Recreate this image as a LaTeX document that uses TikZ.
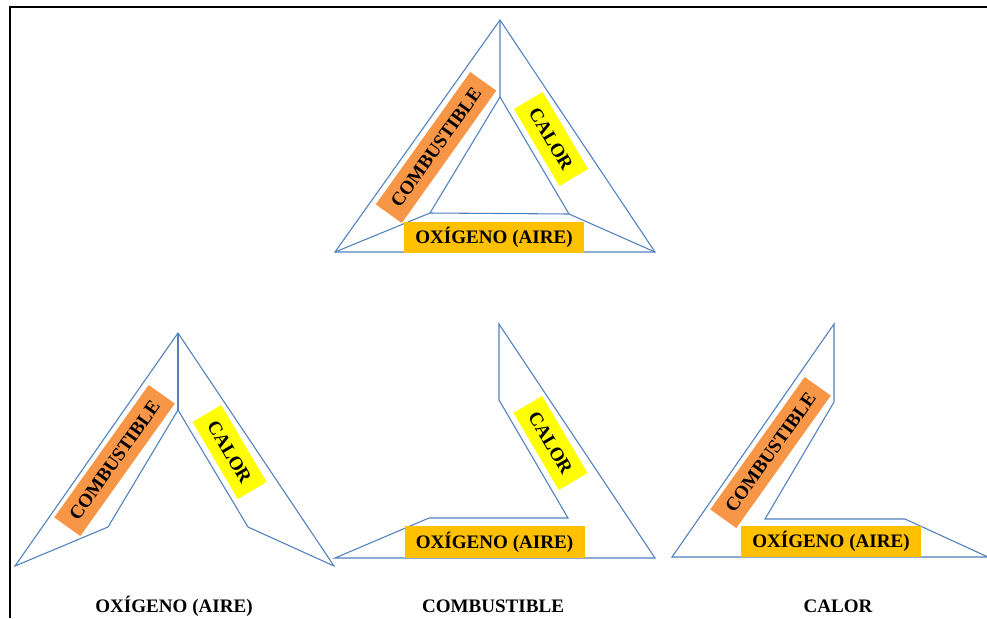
\documentclass[tikz,border=0pt]{standalone}
\usepackage{fontspec}
\setmainfont{Liberation Serif}
\definecolor{edgeblue}{HTML}{4F81BD}
\definecolor{fuelorange}{HTML}{F79646}
\definecolor{airgold}{HTML}{FFC000}
\definecolor{heatyellow}{HTML}{FFFF00}
\begin{document}
\begin{tikzpicture}[x=0.75pt,y=-0.75pt,
  edge/.style={draw=edgeblue,line width=0.8pt,line join=miter},
  lbl/.style={font=\fontsize{14.3}{16}\selectfont\bfseries,text=black,inner sep=0pt},
  fuelbox/.style={lbl,fill=fuelorange,minimum width=122pt,minimum height=24pt,rotate=54.5},
  heatbox/.style={lbl,fill=heatyellow,minimum width=67pt,minimum height=25pt,rotate=-59.5},
  airbox/.style={lbl,fill=airgold,minimum width=135pt,minimum height=23.5pt},
  caption/.style={lbl}]
\useasboundingbox (0,0) rectangle (987,618);
\fill[white] (0,0) rectangle (987,618);
% page frame
\draw[line width=1.5pt] (10,618) -- (10,7) -- (988,7);

% ---- complete fire triangle ----
\coordinate (tA) at (500,20);  \coordinate (tL) at (335,252); \coordinate (tR) at (655,252);
\coordinate (ta) at (500,97);  \coordinate (tl) at (430,213); \coordinate (tr) at (569,214);
\draw[edge] (tA) -- (tL) -- (tR) -- cycle;
\draw[edge] (ta) -- (tl) -- (tr) -- cycle;
\draw[edge] (tA) -- (ta) (tL) -- (tl) (tR) -- (tr);
\node[fuelbox] (tfuel) at (436,147.5) {COMBUSTIBLE};
\node[heatbox] (theat) at (551,139) {CALOR};
\node[airbox]  (tair)  at (494,237.5) {OXÍGENO (AIRE)};

% ---- without oxygen ----
\coordinate (oA) at (178,333); \coordinate (oL) at (15,566);  \coordinate (oR) at (334,566);
\coordinate (oa) at (178,410); \coordinate (ol) at (108,527); \coordinate (or) at (248,527);
\draw[edge] (oA) -- (oL) -- (ol) -- (oa) -- (or) -- (oR) -- cycle;
\draw[edge] (oA) -- (oa);
\node[fuelbox] (ofuel) at (114.5,460.5) {COMBUSTIBLE};
\node[heatbox] (oheat) at (229.5,452) {CALOR};
\node[caption] (ocap) at (174,606) {OXÍGENO (AIRE)};

% ---- without fuel ----
\coordinate (fA) at (499,324); \coordinate (fL) at (335,558); \coordinate (fR) at (655,558);
\coordinate (fa) at (499,400); \coordinate (fl) at (429,518); \coordinate (fr) at (568,518);
\draw[edge] (fA) -- (fa) -- (fr) -- (fl) -- (fL) -- (fR) -- cycle;
\node[heatbox] (fheat) at (550.5,443) {CALOR};
\node[airbox]  (fair)  at (494.5,542) {OXÍGENO (AIRE)};
\node[caption] (fcap) at (493,606) {COMBUSTIBLE};

% ---- without heat ----
\coordinate (hA) at (834,324); \coordinate (hL) at (672,557); \coordinate (hR) at (988,557);
\coordinate (ha) at (834,402); \coordinate (hl) at (765,519); \coordinate (hr) at (905,519);
\draw[edge] (hA) -- (ha) -- (hl) -- (hr) -- (hR) -- (hL) -- cycle;
\node[fuelbox] (hfuel) at (770.5,452.5) {COMBUSTIBLE};
\node[airbox]  (hair)  at (831,541.5) {OXÍGENO (AIRE)};
\node[caption] (hcap) at (838,606) {CALOR};
\end{tikzpicture}
\end{document}
